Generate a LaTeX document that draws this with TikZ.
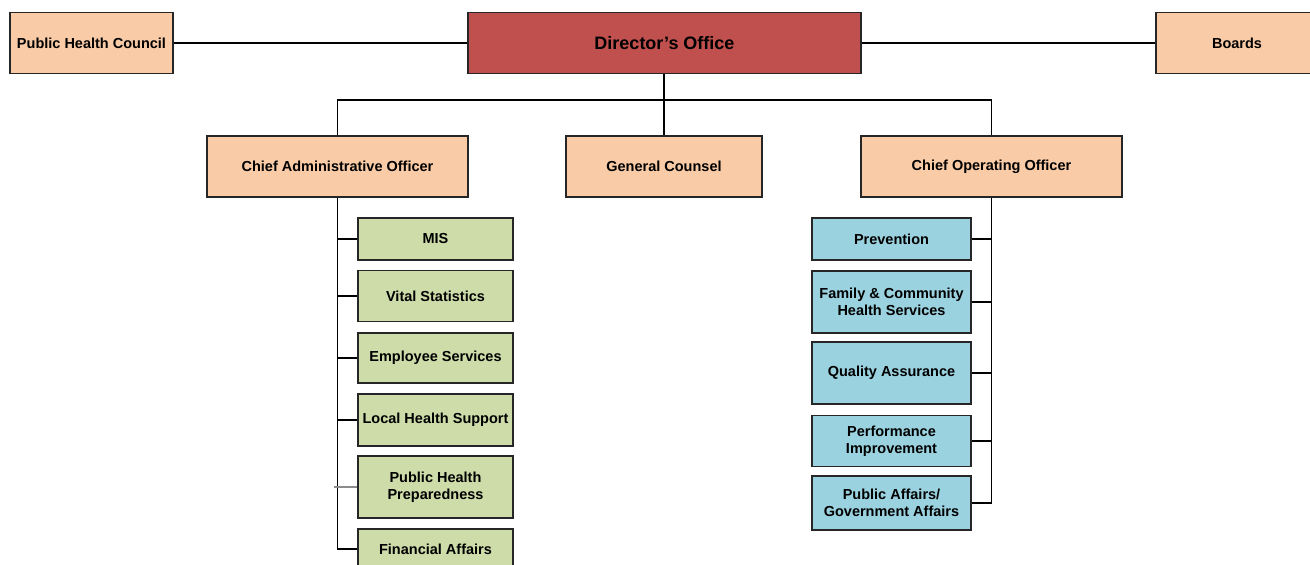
\documentclass[tikz,border=0pt]{standalone}
\usepackage{fontspec}
\setmainfont{Liberation Sans}
\usepackage{tikz}

\definecolor{peach}{HTML}{F9CBA6}
\definecolor{brick}{HTML}{C0504D}
\definecolor{sage}{HTML}{CDDCA9}
\definecolor{sky}{HTML}{9BD2DF}

\begin{document}
\begin{tikzpicture}[x=1pt,y=-1pt,
    line width=1.2pt,
    box/.style={draw=black!85,line width=1.4pt,align=center,inner sep=1pt,font=\bfseries\fontsize{14.5}{17.5}\selectfont},
    head/.style={box,fill=peach,minimum height=61pt},
    unit/.style={box,fill=sage,minimum width=155pt},
    prog/.style={box,fill=sky,minimum width=159pt}]
\useasboundingbox (0,0) rectangle (1310,565);
\clip (0,0) rectangle (1310,565);

\node[head,minimum width=163pt] (phc) at (91.5,43) {Public Health Council};
\node[head,fill=brick,minimum width=393pt,font=\bfseries\fontsize{18}{21}\selectfont] (dir) at (664.5,43) {Director's Office};
\node[head,minimum width=162pt] (boards) at (1237,43) {Boards};

\node[head,minimum width=261pt] (cao) at (337.5,166.5) {Chief Administrative Officer};
\node[head,minimum width=196pt] (gc) at (664,166.5) {General Counsel};
\node[head,minimum width=261pt] (coo) at (991.5,166.5) {Chief Operating Officer};
\coordinate (bus) at (664,100);

\node[unit,minimum height=42pt] (mis) at (435.5,239) {MIS};
\node[unit,minimum height=51pt] (vital) at (435.5,296) {Vital Statistics};
\node[unit,minimum height=50pt] (emp) at (435.5,358) {Employee Services};
\node[unit,minimum height=52pt] (local) at (435.5,420) {Local Health Support};
\node[unit,minimum height=62pt] (php) at (435.5,487) {Public Health\\Preparedness};
\node[unit,minimum height=40pt] (fin) at (435.5,549) {Financial Affairs};

\node[prog,minimum height=42pt] (prev) at (891.5,239) {Prevention};
\node[prog,minimum height=62pt] (fam) at (891.5,302) {Family \& Community\\Health Services};
\node[prog,minimum height=62pt] (qa) at (891.5,373) {Quality Assurance};
\node[prog,minimum height=51pt] (perf) at (891.5,441) {Performance\\Improvement};
\node[prog,minimum height=54pt] (pga) at (891.5,503) {Public Affairs/\\Government Affairs};

\draw (phc.east) -- (dir.west);
\draw (dir.east) -- (boards.west);
\draw (dir.south -| gc.north) -- (gc.north);
\draw (cao.north) |- (bus) -| (coo.north);

\draw (cao.south) |- (fin.west);
\foreach \n in {mis,vital,emp,local}
  \draw (cao.south |- \n.west) -- (\n.west);
\draw[black!45] ([xshift=-4pt]cao.south |- php.west) -- (php.west);

\draw (coo.south) |- (pga.east);
\foreach \n in {prev,fam,qa,perf}
  \draw (coo.south |- \n.east) -- (\n.east);
\end{tikzpicture}
\end{document}
